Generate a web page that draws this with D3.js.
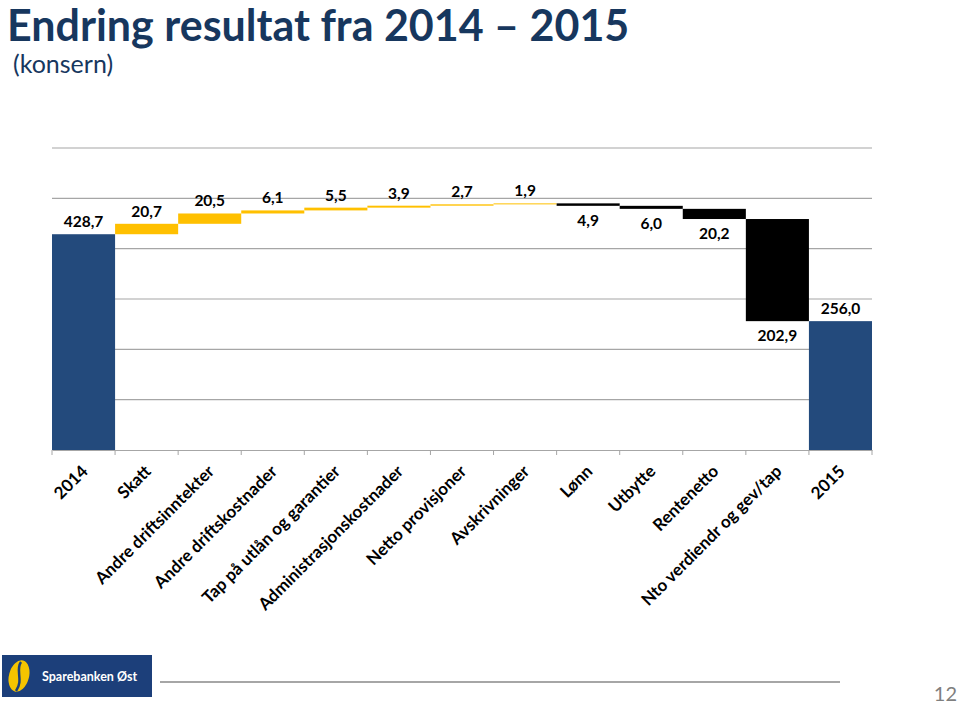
<!DOCTYPE html>
<html><head><meta charset="utf-8">
<script src="https://cdn.jsdelivr.net/npm/d3@7"></script>
<style>body{margin:0;background:#fff;}svg{display:block;font-family:Lato,"Open Sans",sans-serif;}</style>
</head><body>
<svg id="chart" width="960" height="705"></svg>
<script>
const categories = ["2014","Skatt","Andre driftsinntekter","Andre driftskostnader","Tap på utlån og garantier","Administrasjonskostnader","Netto provisjoner","Avskrivninger","Lønn","Utbytte","Rentenetto","Nto verdiendr og gev/tap","2015"];
const changes = [428.7, 20.7, 20.5, 6.1, 5.5, 3.9, 2.7, 1.9, -4.9, -6.0, -20.2, -202.9, 256.0];
const kinds = ["total","up","up","up","up","up","up","up","down","down","down","down","total"];
const labels = ["428,7","20,7","20,5","6,1","5,5","3,9","2,7","1,9","4,9","6,0","20,2","202,9","256,0"];
const yTicks = [0,100,200,300,400,500,600];

const svg = d3.select("#chart");
const colors = {total:"#234a7c", up:"#ffc000", down:"#000000"};

// title
svg.append("text").attr("x",7).attr("y",41).attr("fill","#17375e")
  .attr("font-size",43).attr("font-weight",700).text("Endring resultat fra 2014 – 2015");
svg.append("text").attr("x",13).attr("y",73).attr("fill","#17375e")
  .attr("font-size",25).text("(konsern)");

const x = d3.scaleBand().domain(categories).range([52,872]).padding(0);
const y = d3.scaleLinear().domain([0,600]).range([450,148]);

// gridlines
svg.append("g").selectAll("line").data(yTicks.slice(1)).join("line")
  .attr("x1",52).attr("x2",872).attr("y1",d=>y(d)).attr("y2",d=>y(d))
  .attr("stroke","#a6a6a6").attr("stroke-width",1.2);

// waterfall
let run = 0;
const bars = categories.map((c,i)=>{
  let lo, hi;
  if (kinds[i]==="total"){ lo=0; hi=changes[i]; run=changes[i]; }
  else { const s=run; run=run+changes[i]; lo=Math.min(s,run); hi=Math.max(s,run); }
  return {c, lo, hi, kind:kinds[i], label:labels[i]};
});

svg.append("g").selectAll("rect").data(bars).join("rect")
  .attr("x",d=>x(d.c)).attr("width",x.bandwidth())
  .attr("y",d=>y(d.hi)).attr("height",d=>Math.max(1,y(d.lo)-y(d.hi)))
  .attr("fill",d=>colors[d.kind]);

svg.append("g").selectAll("text").data(bars).join("text")
  .attr("x",d=>x(d.c)+x.bandwidth()/2)
  .attr("y",d=>d.kind==="down" ? y(d.lo)+20 : y(d.hi)-7)
  .attr("text-anchor","middle").attr("font-size",15.5).attr("font-weight",700).attr("fill","#000")
  .text(d=>d.label);

// x axis
const axis = svg.append("g").attr("transform","translate(0,450)")
  .call(d3.axisBottom(x).tickSize(0).tickFormat(""));
axis.select(".domain").attr("stroke","#a6a6a6").attr("stroke-width",1.2);
svg.append("g").selectAll("line").data(d3.range(categories.length+1)).join("line")
  .attr("x1",i=>52+i*x.step()).attr("x2",i=>52+i*x.step()).attr("y1",450).attr("y2",455)
  .attr("stroke","#a6a6a6");
svg.append("g").selectAll("text").data(categories).join("text")
  .attr("transform",d=>`translate(${x(d)+x.bandwidth()/2-3},464) rotate(-45)`)
  .attr("text-anchor","end").attr("dy","0.7em").attr("font-size",17).attr("font-weight",700).attr("fill","#000")
  .text(d=>d);

// footer
const logo = svg.append("g").attr("transform","translate(2,655)");
logo.append("rect").attr("width",150).attr("height",42).attr("fill","#1c3f7a");
logo.append("ellipse").attr("cx",17).attr("cy",21).attr("rx",10).attr("ry",16).attr("fill","#f5c400").attr("transform","rotate(15,17,21)");
logo.append("path").attr("d","M19,7 C13,15 22,25 14,36").attr("stroke","#1c3f7a").attr("stroke-width",2.5).attr("fill","none");
logo.append("text").attr("x",40).attr("y",26).attr("fill","#fff").attr("font-size",12.5).attr("font-weight",700).text("Sparebanken Øst");
svg.append("line").attr("x1",160).attr("x2",840).attr("y1",682).attr("y2",682).attr("stroke","#a6a6a6").attr("stroke-width",2);
svg.append("text").attr("x",957).attr("y",701).attr("text-anchor","end").attr("fill","#7f7f7f").attr("font-size",20).text("12");
</script>
</body></html>
